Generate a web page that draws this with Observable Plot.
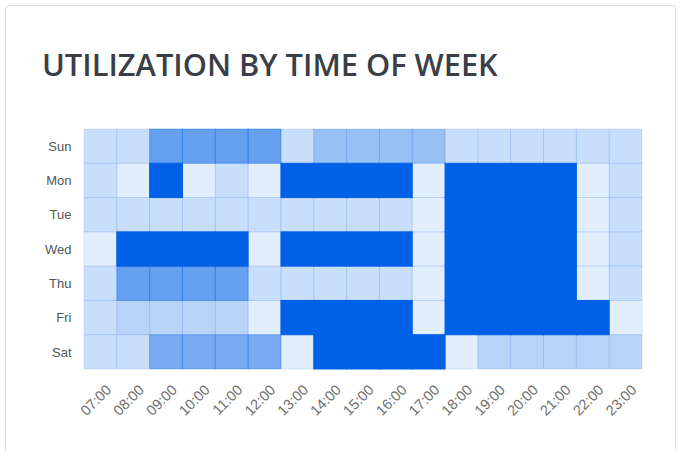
<!DOCTYPE html>
<html>
<head>
<meta charset="utf-8">
<script src="https://cdn.jsdelivr.net/npm/d3@7"></script>
<script src="https://cdn.jsdelivr.net/npm/@observablehq/plot@0.6"></script>
<style>
  html, body { margin: 0; padding: 0; background: #fff; }
  body { width: 680px; height: 451px; position: relative; overflow: hidden; }
  .card { position: absolute; left: 5px; top: 5px; width: 669px; height: 470px;
          border: 1px solid #dcdcdc; border-radius: 4px; background: #fff; }
  .title { position: absolute; left: 42px; top: 42px; margin: 0;
           font-family: "Open Sans", sans-serif; font-weight: 600; font-size: 30.8px;
           line-height: 44px; color: #3a3f47; letter-spacing: 0px; white-space: nowrap; }
  #chart { position: absolute; left: 0; top: 110px; }
</style>
</head>
<body>
<div class="card"></div>
<h1 class="title">UTILIZATION BY TIME OF WEEK</h1>
<div id="chart"></div>
<script>
const days = ["Sun", "Mon", "Tue", "Wed", "Thu", "Fri", "Sat"];
const hours = ["07:00","08:00","09:00","10:00","11:00","12:00","13:00","14:00","15:00","16:00","17:00","18:00","19:00","20:00","21:00","22:00","23:00"];

// utilization share per hour
const sun = [0.21, 0.21, 0.60, 0.60, 0.60, 0.60, 0.21, 0.40, 0.40, 0.40, 0.40, 0.21, 0.21, 0.21, 0.21, 0.21, 0.21];
const mon = [0.21, 0.11, 1.00, 0.11, 0.21, 0.11, 1.00, 1.00, 1.00, 1.00, 0.11, 1.00, 1.00, 1.00, 1.00, 0.11, 0.21];
const tue = [0.21, 0.21, 0.21, 0.21, 0.21, 0.21, 0.21, 0.21, 0.21, 0.21, 0.11, 1.00, 1.00, 1.00, 1.00, 0.11, 0.21];
const wed = [0.11, 1.00, 1.00, 1.00, 1.00, 0.11, 1.00, 1.00, 1.00, 1.00, 0.11, 1.00, 1.00, 1.00, 1.00, 0.11, 0.21];
const thu = [0.21, 0.60, 0.60, 0.60, 0.60, 0.21, 0.21, 0.21, 0.21, 0.21, 0.11, 1.00, 1.00, 1.00, 1.00, 0.11, 0.21];
const fri = [0.21, 0.28, 0.28, 0.28, 0.28, 0.11, 1.00, 1.00, 1.00, 1.00, 0.11, 1.00, 1.00, 1.00, 1.00, 1.00, 0.11];
const sat = [0.21, 0.21, 0.53, 0.53, 0.53, 0.53, 0.11, 1.00, 1.00, 1.00, 1.00, 0.11, 0.28, 0.28, 0.28, 0.28, 0.28];

const rows = [sun, mon, tue, wed, thu, fri, sat];
const data = [];
rows.forEach((r, i) => r.forEach((v, j) => data.push({day: days[i], hour: hours[j], value: v})));

const blue = "#0061e6";
const plot = Plot.plot({
  width: 680,
  height: 320,
  marginLeft: 84,
  marginRight: 38,
  marginTop: 19,
  marginBottom: 61,
  style: { fontFamily: "Arial, 'Liberation Sans', sans-serif", fontSize: "13px", background: "transparent" },
  x: { domain: hours, padding: 0, round: false },
  y: { domain: days, padding: 0, round: false },
  marks: [
    Plot.cell(data, { x: "hour", y: "day", fill: blue, fillOpacity: "value", stroke: blue,
      strokeOpacity: d => Math.max(0.1, d.value * d.value), strokeWidth: 1, inset: 0 }),
    Plot.axisX({ tickSize: 0, tickPadding: 18, dx: 8, tickRotate: -45, fontSize: 14.5, color: "#707070", label: null }),
    Plot.axisY({ tickSize: 0, tickPadding: 13, fontSize: 13, color: "#555", label: null })
  ]
});
document.getElementById("chart").appendChild(plot);
</script>
</body>
</html>
